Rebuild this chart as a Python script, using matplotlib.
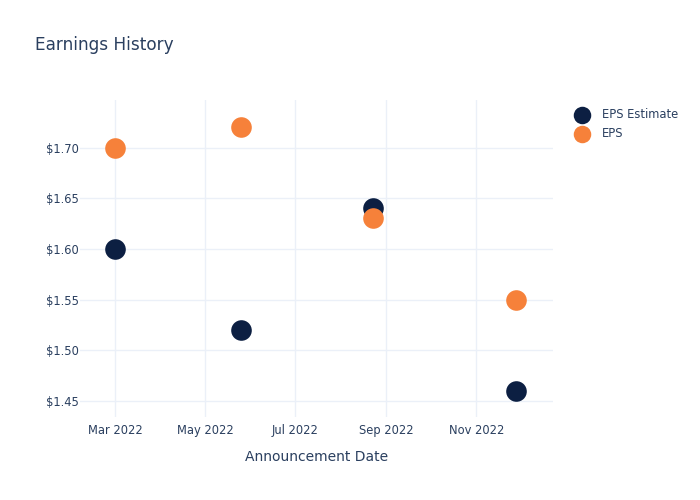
import numpy as np
import matplotlib.pyplot as plt
import matplotlib.dates as mdates
from matplotlib.ticker import FuncFormatter

dates = np.array(["2022-03-01", "2022-05-25", "2022-08-23", "2022-11-28"], dtype="datetime64[D]")
eps_estimate = [1.60, 1.52, 1.64, 1.46]
eps_actual = [1.70, 1.72, 1.63, 1.55]

navy = "#0c1f42"
orange = "#f6813a"
text_col = "#2a3f5f"
grid_col = "#ebf0f8"

plt.rcParams["font.family"] = "DejaVu Sans"
fig = plt.figure(figsize=(7, 5), dpi=100)
ax = fig.add_axes([80/700, 1 - 417/500, (553-80)/700, (417-100)/500])

ax.scatter(dates, eps_estimate, s=220, color=navy, label="EPS Estimate", zorder=3, linewidths=0)
ax.scatter(dates, eps_actual, s=220, color=orange, label="EPS", zorder=3, linewidths=0)

ax.set_xlim(np.datetime64("2022-02-05"), np.datetime64("2022-12-23"))
ax.set_ylim(1.434, 1.747)
ax.set_yticks([1.45, 1.50, 1.55, 1.60, 1.65, 1.70])
ax.yaxis.set_major_formatter(FuncFormatter(lambda v, p: f"${v:.2f}"))
ax.xaxis.set_major_locator(mdates.MonthLocator(bymonth=[3, 5, 7, 9, 11]))
ax.xaxis.set_major_formatter(mdates.DateFormatter("%b %Y"))

ax.grid(True, color=grid_col, linewidth=1)
ax.set_axisbelow(True)
for s in ax.spines.values():
    s.set_visible(False)
ax.tick_params(length=0, colors=text_col, labelsize=8.3)
ax.tick_params(axis="y", pad=1)
ax.tick_params(axis="x", pad=5)
ax.set_xlabel("Announcement Date", fontsize=10, color=text_col, labelpad=9.5)

fig.text(35/700, 1 - 44.5/500, "Earnings History", fontsize=12.2, color=text_col, va="center")

ax.legend(loc="upper left", bbox_to_anchor=(1.016, 1.008), frameon=False,
          fontsize=8.3, labelcolor=text_col, handletextpad=0.7, labelspacing=0.5,
          markerscale=0.85)

fig.savefig("out.png", dpi=100)
